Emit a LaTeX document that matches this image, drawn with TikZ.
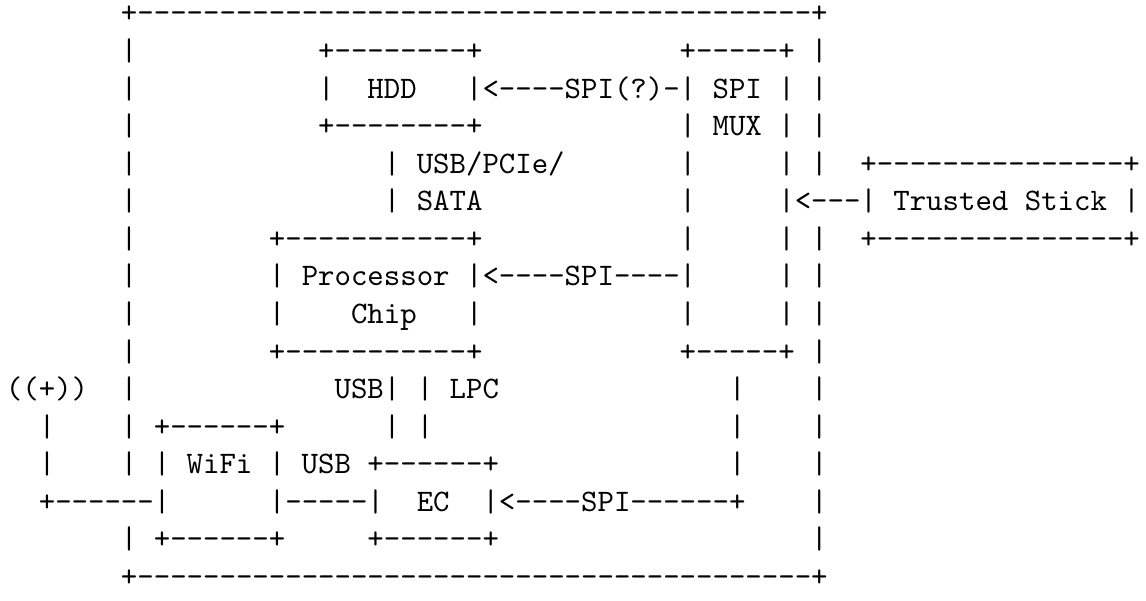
\documentclass[tikz,border=0pt]{standalone}
\usepackage{tikz}
\tikzstyle{asciirow} = [anchor=base west, inner sep=0pt, outer sep=0pt, font=\ttfamily\frenchspacing]

\begin{document}
\begin{tikzpicture}[x=1pt, y=1pt]
  \useasboundingbox (-1.9,-184.5) rectangle (364.2,7.35);

  % outer board, HDD and SPI MUX
  \node (row1)  [asciirow] at (0,0)    {~~~~~~~+-----------------------------------------+};
  \node (row2)  [asciirow] at (0,-12)  {~~~~~~~|~~~~~~~~~~~+--------+~~~~~~~~~~~~+-----+~|};
  \node (row3)  [asciirow] at (0,-24)  {~~~~~~~|~~~~~~~~~~~|~~HDD~~~|<----SPI(?)-|~SPI~|~|};
  \node (row4)  [asciirow] at (0,-36)  {~~~~~~~|~~~~~~~~~~~+--------+~~~~~~~~~~~~|~MUX~|~|};
  \node (row5)  [asciirow] at (0,-48)  {~~~~~~~|~~~~~~~~~~~~~~~|~USB/PCIe/~~~~~~~|~~~~~|~|~~+---------------+};
  \node (row6)  [asciirow] at (0,-60)  {~~~~~~~|~~~~~~~~~~~~~~~|~SATA~~~~~~~~~~~~|~~~~~|<---|~Trusted~Stick~|};
  \node (row7)  [asciirow] at (0,-72)  {~~~~~~~|~~~~~~~~+-----------+~~~~~~~~~~~~|~~~~~|~|~~+---------------+};

  % processor chip
  \node (row8)  [asciirow] at (0,-84)  {~~~~~~~|~~~~~~~~|~Processor~|<----SPI----|~~~~~|~|};
  \node (row9)  [asciirow] at (0,-96)  {~~~~~~~|~~~~~~~~|~~~~Chip~~~|~~~~~~~~~~~~|~~~~~|~|};
  \node (row10) [asciirow] at (0,-108) {~~~~~~~|~~~~~~~~+-----------+~~~~~~~~~~~~+-----+~|};

  % antenna, WiFi and EC
  \node (row11) [asciirow] at (0,-120) {((+))~~|~~~~~~~~~~~~USB|~|~LPC~~~~~~~~~~~~~~|~~~~|};
  \node (row12) [asciirow] at (0,-132) {~~|~~~~|~+------+~~~~~~|~|~~~~~~~~~~~~~~~~~~|~~~~|};
  \node (row13) [asciirow] at (0,-144) {~~|~~~~|~|~WiFi~|~USB~+------+~~~~~~~~~~~~~~|~~~~|};
  \node (row14) [asciirow] at (0,-156) {~~+------|~~~~~~|-----|~~EC~~|<----SPI------+~~~~|};
  \node (row15) [asciirow] at (0,-168) {~~~~~~~|~+------+~~~~~+------+~~~~~~~~~~~~~~~~~~~|};
  \node (row16) [asciirow] at (0,-180) {~~~~~~~+-----------------------------------------+};
\end{tikzpicture}
\end{document}
